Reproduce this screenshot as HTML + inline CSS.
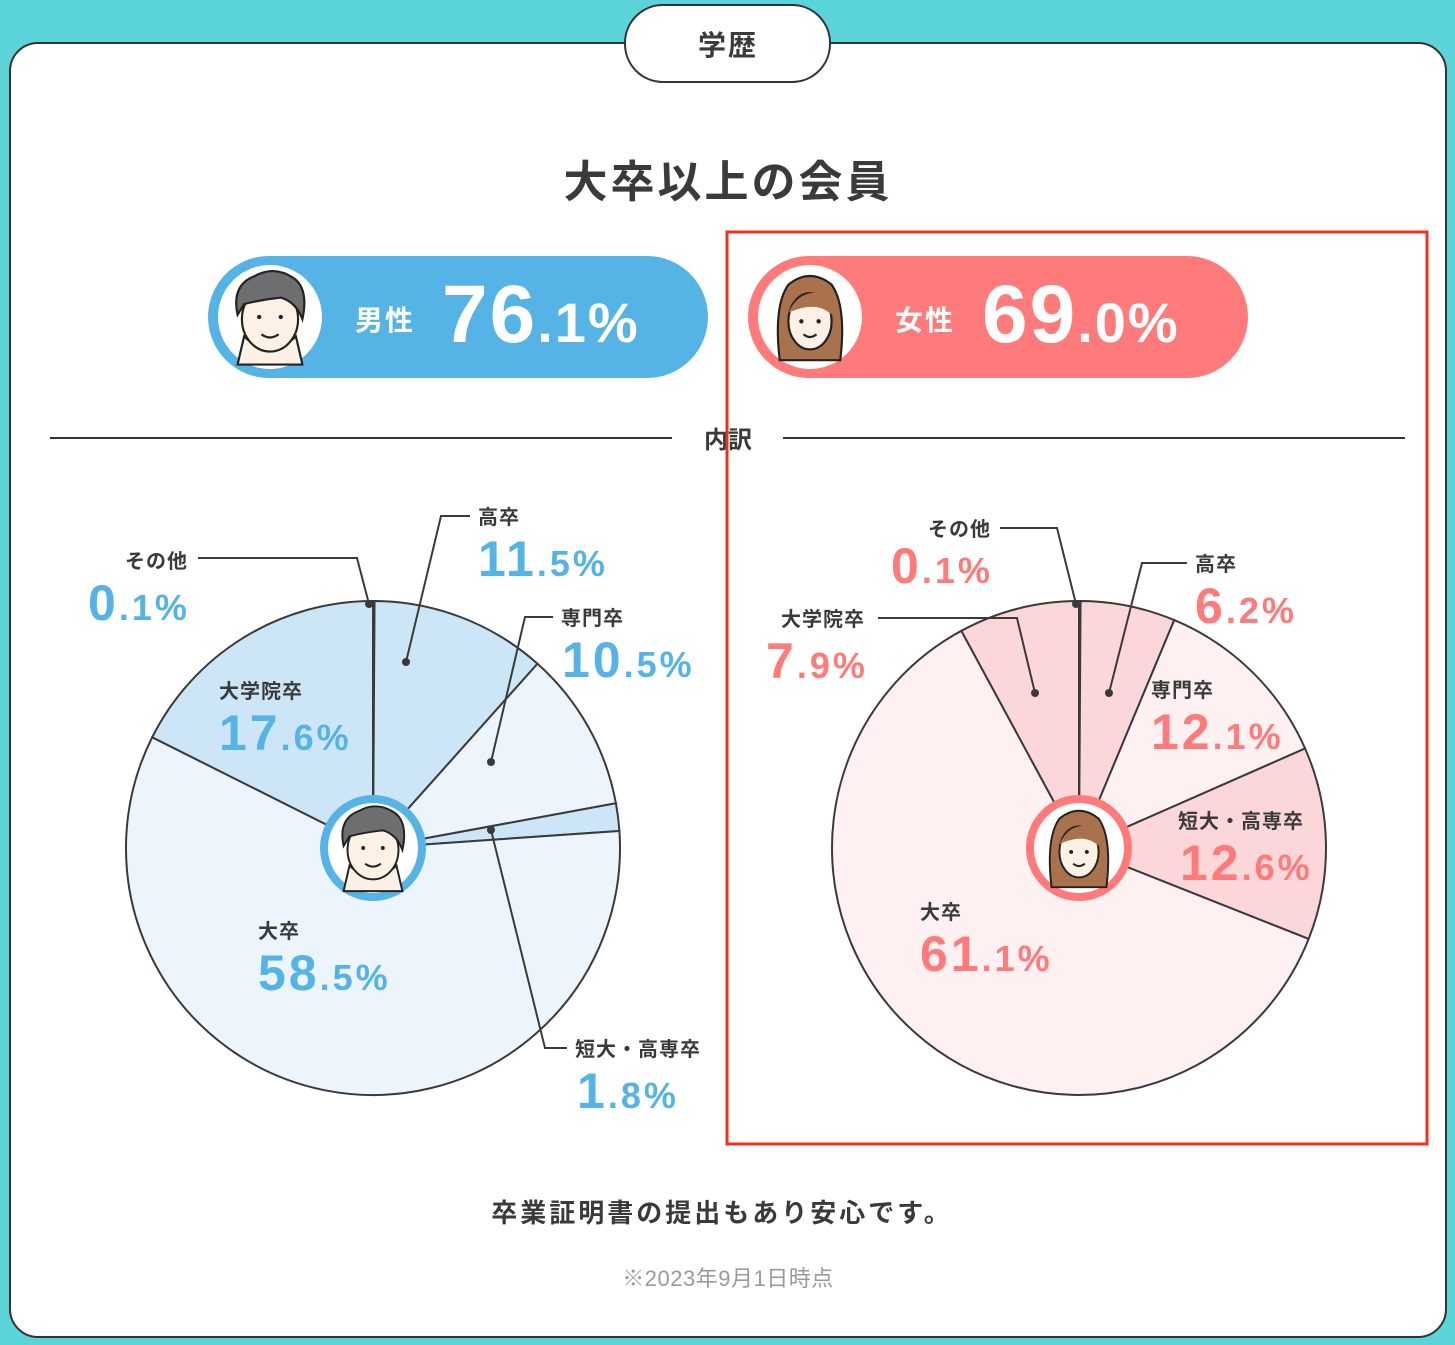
<!DOCTYPE html>
<html><head><meta charset="utf-8"><style>
html,body{margin:0;padding:0;background:#5ad3d9;}
svg{display:block;font-family:"Liberation Sans","Noto Sans CJK JP",sans-serif;}
.lb{font-size:20px;font-weight:bold;fill:#3a3a3a;letter-spacing:1px;}
.nb{font-weight:bold;letter-spacing:3px;}
.b{fill:#56b3e6}.p{fill:#ff7b7b}
</style></head><body>
<svg id="s" width="1455" height="1345" viewBox="0 0 1455 1345" xmlns="http://www.w3.org/2000/svg">
<defs>
<g id="man">
<circle cx="0" cy="0" r="44" fill="#fff"/>
<path d="M-30,44 L-24,18 Q0,40 24,18 L30,44 Z" fill="#fdf1e6" stroke="#222" stroke-width="2"/>
<ellipse cx="0" cy="2" rx="26" ry="30" fill="#fdf1e6" stroke="#222" stroke-width="2"/>
<path d="M-30,-2 Q-36,-30 -14,-38 Q4,-48 22,-36 Q36,-26 30,2 Q24,-14 10,-18 Q-8,-16 -24,-12 Z" fill="#6d6e70" stroke="#222" stroke-width="2"/>
<circle cx="-10" cy="0" r="2" fill="#222"/><circle cx="10" cy="0" r="2" fill="#222"/>
<path d="M-8,16 Q0,22 8,16" fill="none" stroke="#222" stroke-width="2"/>
</g>
<g id="woman">
<circle cx="0" cy="0" r="44" fill="#fff"/>
<path d="M-28,40 Q-34,-10 -20,-30 Q0,-46 20,-30 Q34,-10 28,40 Z" fill="#a9724d" stroke="#222" stroke-width="2"/>
<ellipse cx="0" cy="4" rx="20" ry="26" fill="#fdf1e6" stroke="#222" stroke-width="2"/>
<path d="M-20,-4 Q-10,-26 12,-22 Q22,-14 20,-2 Q6,-16 -20,-4Z" fill="#a9724d"/>
<circle cx="-8" cy="4" r="2" fill="#222"/><circle cx="8" cy="4" r="2" fill="#222"/>
<path d="M-6,16 Q0,21 6,16" fill="none" stroke="#222" stroke-width="2"/>
</g>
</defs>
<rect x="10" y="43" width="1436" height="1294" rx="28" fill="#fff" stroke="#333" stroke-width="2"/>
<rect x="625" y="5" width="205" height="77" rx="38" fill="#fff" stroke="#333" stroke-width="2"/>
<text x="728" y="55" text-anchor="middle" style="font-size:28px;font-weight:bold;fill:#3a3a3a;letter-spacing:2px">学歴</text>
<text x="728" y="197" text-anchor="middle" style="font-size:44px;font-weight:bold;fill:#3a3a3a;letter-spacing:3px">大卒以上の会員</text>

<rect x="208" y="256" width="500" height="122" rx="61" fill="#56b3e6"/>
<circle cx="270" cy="317" r="52" fill="#fff"/>
<g transform="translate(270,317) scale(1.08)"><use href="#man"/></g>
<text x="355" y="330" style="font-size:28px;font-weight:bold;fill:#fff;letter-spacing:2px">男性</text>
<text x="442" y="342" style="font-weight:bold;fill:#fff;letter-spacing:2px"><tspan style="font-size:82px">76</tspan><tspan style="font-size:56px">.1%</tspan></text>

<rect x="748" y="256" width="500" height="122" rx="61" fill="#ff7b7b"/>
<circle cx="810" cy="317" r="52" fill="#fff"/>
<g transform="translate(810,317) scale(1.08)"><use href="#woman"/></g>
<text x="895" y="330" style="font-size:28px;font-weight:bold;fill:#fff;letter-spacing:2px">女性</text>
<text x="982" y="342" style="font-weight:bold;fill:#fff;letter-spacing:2px"><tspan style="font-size:82px">69</tspan><tspan style="font-size:56px">.0%</tspan></text>

<line x1="50" y1="438" x2="672" y2="438" stroke="#333" stroke-width="2"/>
<line x1="783" y1="438" x2="1405" y2="438" stroke="#333" stroke-width="2"/>
<text x="728" y="448" text-anchor="middle" style="font-size:24px;font-weight:bold;fill:#3a3a3a">内訳</text>

<g id="pies"></g>

<g fill="none" stroke="#3a3a3a" stroke-width="2">
<polyline points="470,516 441,516 406,662"/>
<polyline points="198,558 357,558 369,604"/>
<polyline points="553,617 525,617 491,762"/>
<polyline points="567,1048 545,1048 491,830"/>
<polyline points="1000,528 1057,528 1076,604"/>
<polyline points="1187,563 1142,563 1109,693"/>
<polyline points="878,618 1017,618 1035,693"/>
</g>
<g fill="#3a3a3a">
<circle cx="406" cy="662" r="4"/><circle cx="369" cy="604" r="4"/><circle cx="491" cy="762" r="4"/><circle cx="491" cy="830" r="4"/>
<circle cx="1076" cy="604" r="4"/><circle cx="1109" cy="693" r="4"/><circle cx="1035" cy="693" r="4"/>
</g>

<circle cx="373" cy="848" r="53" fill="#56b3e6"/><circle cx="373" cy="848" r="45" fill="#fff"/><g transform="translate(373,848) scale(0.98)"><use href="#man"/></g>
<circle cx="1079" cy="848" r="53" fill="#ff7b7b"/><circle cx="1079" cy="848" r="45" fill="#fff"/><g transform="translate(1079,848) scale(0.98)"><use href="#woman"/></g>

<text class="lb" x="478" y="524">高卒</text>
<text class="nb b" x="478" y="576"><tspan font-size="50">11</tspan><tspan font-size="36">.5%</tspan></text>
<text class="lb" x="125" y="568">その他</text>
<text class="nb b" x="88" y="620"><tspan font-size="50">0</tspan><tspan font-size="36">.1%</tspan></text>
<text class="lb" x="561" y="625">専門卒</text>
<text class="nb b" x="562" y="677"><tspan font-size="50">10</tspan><tspan font-size="36">.5%</tspan></text>
<text class="lb" x="219" y="698">大学院卒</text>
<text class="nb b" x="219" y="750"><tspan font-size="50">17</tspan><tspan font-size="36">.6%</tspan></text>
<text class="lb" x="258" y="938">大卒</text>
<text class="nb b" x="258" y="990"><tspan font-size="50">58</tspan><tspan font-size="36">.5%</tspan></text>
<text class="lb" x="575" y="1056">短大・高専卒</text>
<text class="nb b" x="577" y="1108"><tspan font-size="50">1</tspan><tspan font-size="36">.8%</tspan></text>

<text class="lb" x="928" y="536">その他</text>
<text class="nb p" x="891" y="583"><tspan font-size="50">0</tspan><tspan font-size="36">.1%</tspan></text>
<text class="lb" x="1195" y="571">高卒</text>
<text class="nb p" x="1195" y="623"><tspan font-size="50">6</tspan><tspan font-size="36">.2%</tspan></text>
<text class="lb" x="781" y="626">大学院卒</text>
<text class="nb p" x="766" y="678"><tspan font-size="50">7</tspan><tspan font-size="36">.9%</tspan></text>
<text class="lb" x="1151" y="697">専門卒</text>
<text class="nb p" x="1151" y="749"><tspan font-size="50">12</tspan><tspan font-size="36">.1%</tspan></text>
<text class="lb" x="1178" y="828">短大・高専卒</text>
<text class="nb p" x="1180" y="880"><tspan font-size="50">12</tspan><tspan font-size="36">.6%</tspan></text>
<text class="lb" x="920" y="919">大卒</text>
<text class="nb p" x="920" y="971"><tspan font-size="50">61</tspan><tspan font-size="36">.1%</tspan></text>

<rect x="727" y="232" width="700" height="912" fill="none" stroke="#f0301c" stroke-width="3"/>

<text x="722" y="1222" text-anchor="middle" style="font-size:26px;font-weight:bold;fill:#3a3a3a;letter-spacing:3px">卒業証明書の提出もあり安心です。</text>
<text x="728" y="1286" text-anchor="middle" style="font-size:22px;fill:#9a9a9a;letter-spacing:0.5px">※2023年9月1日時点</text>
</svg>
<script>
(function(){
var g=document.getElementById('pies'),NS='http://www.w3.org/2000/svg';
function pie(cx,cy,r,vals,cols){
 var a=0;
 for(var i=0;i<vals.length;i++){
  var a0=a/100*2*Math.PI,a1=(a+vals[i])/100*2*Math.PI;a+=vals[i];
  var x0=cx+r*Math.sin(a0),y0=cy-r*Math.cos(a0),x1=cx+r*Math.sin(a1),y1=cy-r*Math.cos(a1);
  var lg=(a1-a0)>Math.PI?1:0;
  var p=document.createElementNS(NS,'path');
  p.setAttribute('d','M'+cx+','+cy+' L'+x0+','+y0+' A'+r+','+r+' 0 '+lg+' 1 '+x1+','+y1+' Z');
  p.setAttribute('fill',cols[i]);p.setAttribute('stroke','#3a3a3a');p.setAttribute('stroke-width','2');
  g.appendChild(p);
 }
}
var B='#cce6f7',L='#ecf5fc';
pie(373,848,247,[0.1,11.5,10.5,1.8,58.5,17.6],[B,B,L,B,L,B]);
var P='#fcd7d9',Q='#fff1f1';
pie(1079,848,247,[0.1,6.2,12.1,12.6,61.1,7.9],[P,P,Q,P,Q,P]);
})();
</script>
</body></html>
